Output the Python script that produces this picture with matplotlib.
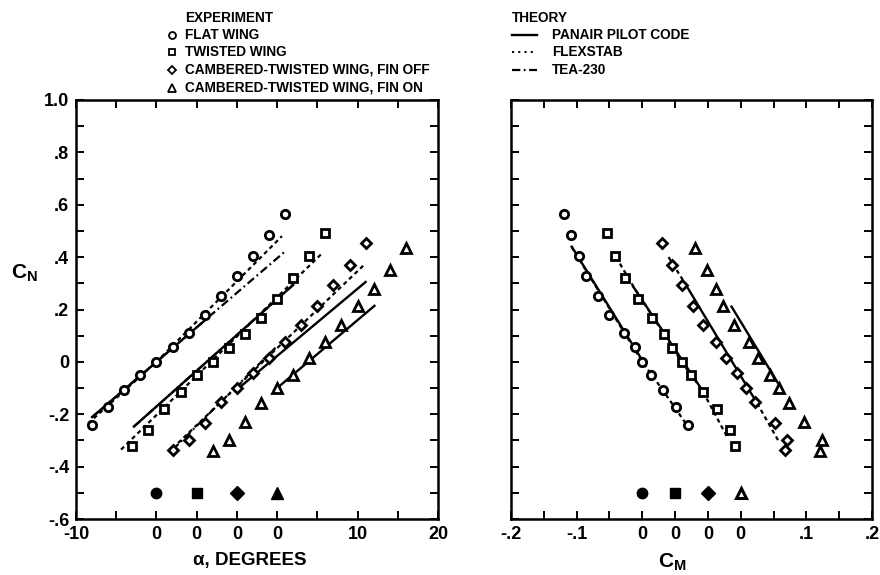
import numpy as np
import matplotlib.pyplot as plt
from matplotlib.lines import Line2D

plt.rcParams['font.family'] = ['Liberation Sans', 'DejaVu Sans']
plt.rcParams['font.weight'] = 'bold'
plt.rcParams['mathtext.fontset'] = 'custom'
plt.rcParams['mathtext.rm'] = 'Liberation Sans:bold'
plt.rcParams['mathtext.it'] = 'Liberation Sans:bold'
plt.rcParams['mathtext.bf'] = 'Liberation Sans:bold'
plt.rcParams['lines.scale_dashes'] = False

# experiment: angle of attack (deg) and measured CN, CM for each wing
alpha = [-8, -6, -4, -2, 0, 2, 4, 6, 8, 10, 12, 14, 16]

cn_flat = [-0.24, -0.173, -0.107, -0.052, 0.0, 0.055, 0.112, 0.179, 0.252, 0.328, 0.405, 0.484, 0.564]
cn_twist = [-0.321, -0.26, -0.181, -0.116, -0.052, 0.0, 0.052, 0.106, 0.167, 0.24, 0.322, 0.405, 0.491]
cn_camb = [-0.336, -0.298, -0.234, -0.155, -0.1, -0.043, 0.014, 0.074, 0.141, 0.214, 0.294, 0.37, 0.455]
cn_fin = [-0.342, -0.298, -0.228, -0.158, -0.1, -0.05, 0.014, 0.074, 0.141, 0.214, 0.277, 0.351, 0.436]

cm_flat = [0.069, 0.052, 0.031, 0.013, 0.0, -0.011, -0.028, -0.050, -0.068, -0.085, -0.097, -0.109, -0.120]
cm_twist = [0.092, 0.083, 0.064, 0.043, 0.024, 0.010, -0.004, -0.017, -0.035, -0.057, -0.077, -0.092, -0.103]
cm_camb = [0.117, 0.121, 0.102, 0.072, 0.058, 0.044, 0.028, 0.012, -0.007, -0.023, -0.040, -0.055, -0.070]
cm_fin = [0.121, 0.124, 0.096, 0.073, 0.059, 0.044, 0.026, 0.012, -0.010, -0.027, -0.038, -0.052, -0.0695]

names = ["FLAT WING", "TWISTED WING", "CAMBERED-TWISTED WING, FIN OFF", "CAMBERED-TWISTED WING, FIN ON"]
markers = ["o", "s", "D", "^"]
# each wing is staggered along the x axis, its own zero is marked below
alpha_shift = [-15, -10, -5, 0]
cm_shift = [-0.15, -0.10, -0.05, 0.0]
zero_cn = -0.5

# theory curves, (alpha, CN) in each wing's own alpha
panair_a = [
    ([-8, 6], [-0.211, 0.158]),
    ([-7.8, 12], [-0.247, 0.294]),
    ([0, 16], [-0.106, 0.305]),
    ([0, 12.1], [-0.1, 0.214]),
]
flexstab_a = [
    ([-8.5, 0, 15.6], [-0.235, 0.0, 0.48]),
    ([-9.4, 15.6], [-0.335, 0.415]),
    ([-8, 16], [-0.33, 0.376]),
]
tea_a = [
    ([-8, 16], [-0.211, 0.422]),
    ([-7.8, 12], [-0.247, 0.294]),
    ([-8, 5], [-0.336, 0.06]),
]
# theory curves, (CM, CN) in each wing's own CM
panair_m = [
    ([-0.1075, 0.004], [0.44, -0.01]),
    ([-0.064, 0.041], [0.288, -0.107]),
    ([-0.035, 0.075], [0.30, -0.158]),
    ([-0.014, 0.063], [0.211, -0.107]),
]
flexstab_m = [
    ([-0.108, 0.0, 0.031, 0.069], [0.44, 0.0, -0.107, -0.245]),
    ([-0.09, -0.064, 0.01, 0.041, 0.079], [0.40, 0.29, 0.0, -0.107, -0.285]),
    ([-0.06, -0.035], [0.40, 0.30]),
    ([0.075, 0.108], [-0.158, -0.304]),
]
flex_m_wing = [0, 1, 2, 2]

cn_all = [cn_flat, cn_twist, cn_camb, cn_fin]
cm_all = [cm_flat, cm_twist, cm_camb, cm_fin]

W, H = 880, 575
fig = plt.figure(figsize=(W / 100, H / 100), dpi=100)
ax1 = fig.add_axes([76 / W, 1 - 519 / H, 362 / W, 419 / H])
ax2 = fig.add_axes([511 / W, 1 - 519 / H, 361 / W, 419 / H])

solid = dict(color="black", lw=1.7, ls="-")
dashed = dict(color="black", lw=1.6, ls=(0, (3, 2.5)))
dashdot = dict(color="black", lw=1.6, ls=(0, (6, 2.5, 1.3, 2.5)))
ms = {"o": 6, "s": 5.8, "D": 5.2, "^": 6.5}

for i in range(4):
    x = np.array(alpha) + alpha_shift[i]
    ax1.plot(x, cn_all[i], markers[i], ms=ms[markers[i]], mfc="white", mec="black", mew=2, zorder=4)
    ax1.plot(alpha_shift[i], zero_cn, markers[i], ms=ms[markers[i]] + 1.5, color="black", zorder=4)
    a, c = panair_a[i]
    ax1.plot(np.array(a) + alpha_shift[i], c, **solid)

    m = np.array(cm_all[i]) + cm_shift[i]
    ax2.plot(m, cn_all[i], markers[i], ms=ms[markers[i]], mfc="white", mec="black", mew=2, zorder=4)
    if i < 3:
        ax2.plot(cm_shift[i], zero_cn, markers[i], ms=ms[markers[i]] + 1.5, color="black", zorder=4)
    else:
        ax2.plot(cm_shift[i], zero_cn, markers[i], ms=ms[markers[i]] + 1, mfc="white", mec="black", mew=2.2, zorder=4)
    m, c = panair_m[i]
    ax2.plot(np.array(m) + cm_shift[i], c, **solid)

for i in range(3):
    a, c = flexstab_a[i]
    ax1.plot(np.array(a) + alpha_shift[i], c, **dashed)
    a, c = tea_a[i]
    ax1.plot(np.array(a) + alpha_shift[i], c, **dashdot)

for k, (m, c) in enumerate(flexstab_m):
    ax2.plot(np.array(m) + cm_shift[flex_m_wing[k]], c, **dashed)

yt = np.round(np.arange(-0.6, 1.01, 0.1), 2)
ylab = {1.0: "1.0", 0.8: ".8", 0.6: ".6", 0.4: ".4", 0.2: ".2", 0.0: "0", -0.2: "-.2", -0.4: "-.4", -0.6: "-.6"}

for ax in (ax1, ax2):
    ax.set_ylim(-0.6, 1.0)
    ax.set_yticks(yt)
    ax.tick_params(direction="in", length=6, width=1.4, top=True, right=True, labelsize=13, pad=5)
    for s in ax.spines.values():
        s.set_linewidth(1.8)

ax1.set_yticklabels([ylab.get(v, "") for v in yt])
ax2.set_yticklabels([])

ax1.set_xlim(-25, 20)
ax1.set_xticks(np.arange(-25, 21, 5))
ax1.set_xticklabels(["-10", "", "0", "0", "0", "0", "", "10", "", "20"])

ax2.set_xlim(-0.35, 0.20)
ax2.set_xticks(np.round(np.arange(-0.35, 0.201, 0.05), 2))
ax2.set_xticklabels(["-.2", "", "-.1", "", "0", "0", "0", "0", "", ".1", "", ".2"])


def fx(px):
    return px / W


def fy(py):
    return 1 - py / H


# axis titles
fig.text(fx(24), fy(273), "$C_N$", fontsize=15, ha="center", va="center")
fig.text(fx(250), fy(560), "α, DEGREES", fontsize=13.5, ha="center", va="center")
fig.text(fx(672), fy(562), "$C_M$", fontsize=15, ha="center", va="center")

# legends
fs = 9.8
fig.text(fx(185), fy(18), "EXPERIMENT", fontsize=fs, va="center")
rows = [35, 52, 70, 88]
for i in range(4):
    fig.add_artist(Line2D([fx(172)], [fy(rows[i])], marker=markers[i], ms=ms[markers[i]] - 1,
                          mfc="white", mec="black", mew=1.3, ls="none"))
    fig.text(fx(185), fy(rows[i]), names[i], fontsize=fs, va="center")

fig.text(fx(512), fy(18), "THEORY", fontsize=fs, va="center")
theory = ["PANAIR PILOT CODE", "FLEXSTAB", "TEA-230"]
styles = [solid, dict(color="black", lw=1.4, ls=(0, (1.5, 3))), dashdot]
for i in range(3):
    fig.add_artist(Line2D([fx(512), fx(537)], [fy(rows[i]), fy(rows[i])], **styles[i]))
    fig.text(fx(552), fy(rows[i]), theory[i], fontsize=fs, va="center")

fig.savefig("out.png", dpi=100)
